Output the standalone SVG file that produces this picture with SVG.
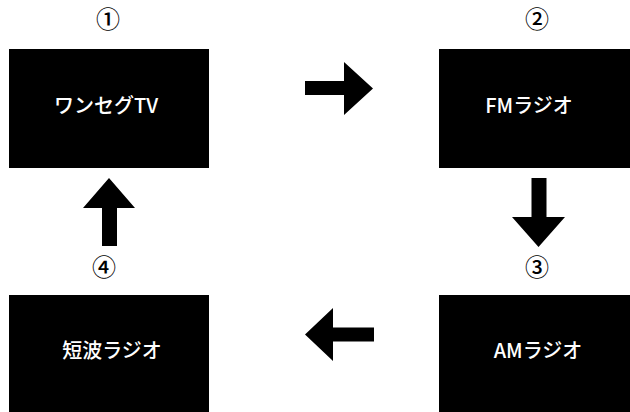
<svg xmlns="http://www.w3.org/2000/svg" width="630" height="412" viewBox="0 0 630 412">
<style>
.box{fill:#000}
.lbl{fill:#fff;font-family:"Noto Sans CJK JP","Noto Sans",sans-serif;font-size:20px;font-weight:500;text-anchor:middle}
.num{fill:#000;font-family:"Noto Sans CJK JP","Noto Sans",sans-serif;font-size:24px;font-weight:500;text-anchor:middle}
.arr{fill:#000}
</style>
<rect width="630" height="412" fill="#fff"/>
<g id="node1">
<rect class="box" x="9" y="49" width="200" height="119"/>
<text class="lbl" x="106" y="112.5">ワンセグTV</text>
<text class="num" x="108" y="28">①</text>
</g>
<g id="node2">
<rect class="box" x="439" y="49" width="200" height="119"/>
<text class="lbl" x="529" y="112.5">FMラジオ</text>
<text class="num" x="537" y="28">②</text>
</g>
<g id="node3">
<rect class="box" x="439" y="295" width="200" height="130"/>
<text class="lbl" x="538" y="358">AMラジオ</text>
<text class="num" x="537" y="275.5">③</text>
</g>
<g id="node4">
<rect class="box" x="9" y="295" width="200" height="130"/>
<text class="lbl" x="112" y="358">短波ラジオ</text>
<text class="num" x="104" y="275.5">④</text>
</g>
<g id="connectors">
<polygon class="arr" points="305,81 344,81 344,62 373,88.5 344,115 344,95 305,95"/>
<polygon class="arr" points="531.5,178 546.5,178 546.5,217 565,217 538.5,247 512,217 531.5,217"/>
<polygon class="arr" points="374,327.5 333,327.5 333,308 305,334.5 333,361 333,341.5 374,341.5"/>
<polygon class="arr" points="102,246 117,246 117,208 135,208 109,178 83,208 102,208"/>
</g>
</svg>
